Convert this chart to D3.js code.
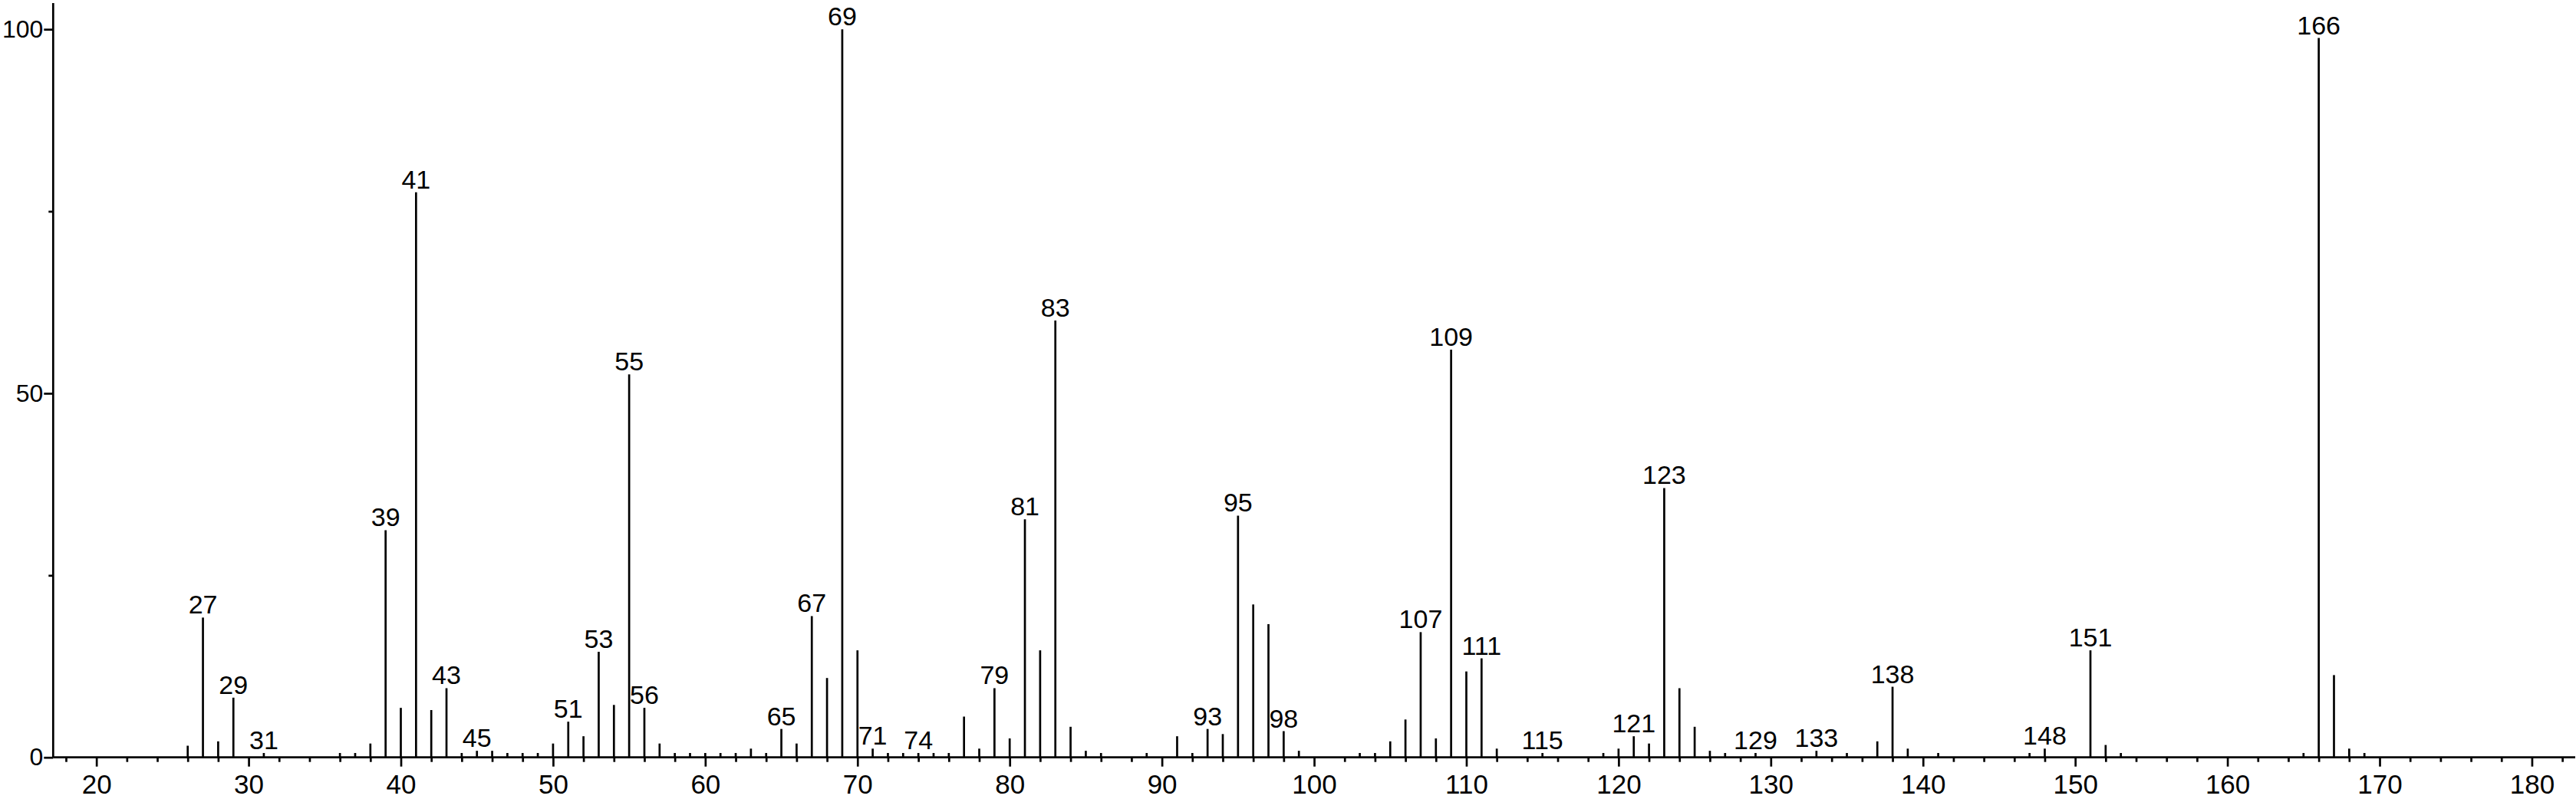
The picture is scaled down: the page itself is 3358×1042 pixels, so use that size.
<!DOCTYPE html>
<html>
<head>
<meta charset="utf-8">
<script src="https://cdn.jsdelivr.net/npm/d3@7"></script>
<style>
  html, body { margin: 0; padding: 0; background: #fff; }
  svg { display: block; }
  text { font-family: "Liberation Sans", Arial, Helvetica, sans-serif; fill: #000; }
</style>
</head>
<body>
<svg id="chart" width="3358" height="1042"></svg>
<script>
// m/z values of the peaks
const mz = [26,27,28,29,31,36,37,38,39,40,41,42,43,44,45,46,47,48,49,50,
  51,52,53,54,55,56,57,58,59,60,61,62,63,64,65,66,67,68,69,70,
  71,72,73,74,75,76,77,78,79,80,81,82,83,84,85,86,89,91,92,93,
  94,95,96,97,98,99,103,104,105,106,107,108,109,110,111,112,115,119,120,121,
  122,123,124,125,126,127,129,133,135,137,138,139,141,147,148,151,152,153,165,166,
  167,168,169];
// relative intensities (%)
const intensity = [1.6,19.2,2.2,8.2,0.6,0.6,0.6,1.9,31.2,6.8,77.6,6.5,9.5,0.6,0.9,0.9,0.6,0.6,0.6,1.9,
  4.9,2.9,14.5,7.2,52.6,6.8,1.9,0.6,0.6,0.6,0.6,0.6,1.2,0.6,3.9,1.9,19.4,10.9,100,14.7,
  1.2,0.6,0.6,0.6,0.6,0.6,5.6,1.2,9.5,2.6,32.7,14.7,60.0,4.2,0.9,0.6,0.6,2.9,0.6,3.9,
  3.2,33.2,21.0,18.3,3.6,0.9,0.6,0.6,2.2,5.2,17.2,2.6,56.0,11.8,13.6,1.2,0.6,0.6,1.2,2.9,
  1.9,37.0,9.5,4.2,0.9,0.6,0.6,0.9,0.6,2.2,9.7,1.2,0.6,0.6,1.2,14.7,1.7,0.6,0.6,98.8,
  11.3,1.2,0.6];
// peaks that carry an m/z label
const labeled = [27,29,31,39,41,43,45,51,53,55,56,65,67,69,71,74,79,81,83,93,95,98,
  107,109,111,115,121,123,129,133,138,148,151,166];
// axis ticks
const xMajorTicks = [20,30,40,50,60,70,80,90,100,110,120,130,140,150,160,170,180];
const xMinorTicks = d3.range(18, 183, 2).filter(v => v % 10 !== 0);
const yMajorTicks = [0,50,100];
const yMinorTicks = [25,75];

const peaks = mz.map((m, i) => ({ m, v: intensity[i] }));

const svg = d3.select("#chart");
const x = d3.scaleLinear().domain([17.16, 182.85]).range([69.3, 3357]);
const y = d3.scaleLinear().domain([0, 103.6]).range([987.7, 4]);

const sw = 2.7;

// peaks
svg.append("g").selectAll("line").data(peaks).join("line")
  .attr("x1", d => x(d.m)).attr("x2", d => x(d.m))
  .attr("y1", y(0)).attr("y2", d => y(d.v))
  .attr("stroke", "#000").attr("stroke-width", sw);

// x axis
const xAxis = svg.append("g").attr("transform", `translate(0,${y(0)})`);
xAxis.call(d3.axisBottom(x).tickValues(xMajorTicks).tickSize(12).tickPadding(10).tickFormat(d3.format("d")));
xAxis.append("g").call(d3.axisBottom(x).tickValues(xMinorTicks).tickSize(6).tickFormat(""))
  .select(".domain").remove();
xAxis.selectAll(".domain").attr("stroke-width", sw).attr("d", `M${x.range()[0]},0H${x.range()[1]}`);
xAxis.selectAll(".tick line").attr("stroke-width", sw);
xAxis.selectAll("text").attr("font-size", 35).attr("font-family", "Liberation Sans, Arial, sans-serif");

// y axis
const yAxis = svg.append("g").attr("transform", `translate(${x.range()[0]},0)`);
yAxis.call(d3.axisLeft(y).tickValues(yMajorTicks).tickSize(12).tickPadding(1).tickFormat(d3.format("d")));
yAxis.append("g").call(d3.axisLeft(y).tickValues(yMinorTicks).tickSize(6).tickFormat(""))
  .select(".domain").remove();
yAxis.selectAll(".domain").attr("stroke-width", sw).attr("d", `M0,${y.range()[0]}V${y.range()[1]}`);
yAxis.selectAll(".tick line").attr("stroke-width", sw);
yAxis.selectAll("text").attr("font-size", 32).attr("font-family", "Liberation Sans, Arial, sans-serif");

// peak labels
svg.append("g").selectAll("text").data(peaks.filter(p => labeled.includes(p.m))).join("text")
  .attr("x", d => x(d.m)).attr("y", d => y(d.v) - 5)
  .attr("text-anchor", "middle").attr("font-size", 34)
  .text(d => d.m);
</script>
</body>
</html>
